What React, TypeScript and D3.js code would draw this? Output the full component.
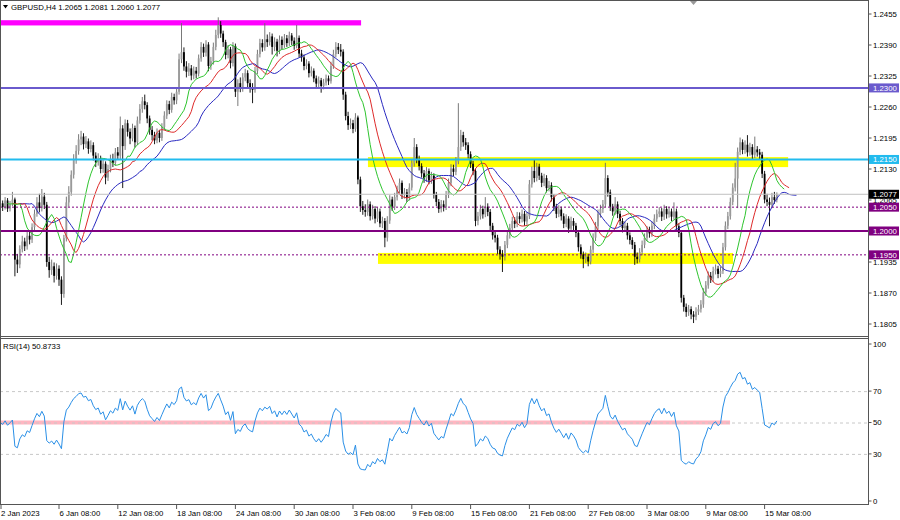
import React, {useEffect, useRef} from "react"
import * as d3 from "d3"

// GBPUSD H4, one bar every 4 hours from 2 Jan 08:00 to 16 Mar 2023.
// the open of every bar is the close of the bar before it
const firstOpen = 1.2055

const closeJan = [
    1.2058, 1.2050, 1.2064, 1.2047, 1.2056, 1.2066, 1.1940, 1.1930, 1.1962, 1.1978,
    1.1968, 1.1990, 1.1982, 1.2008, 1.2036, 1.2060, 1.2048, 1.2072, 1.2055, 1.1935,
    1.1918, 1.1926, 1.1906, 1.1921, 1.1898, 1.1868, 1.1985, 1.2060, 1.2082, 1.2118,
    1.2150, 1.2168, 1.2192, 1.2198, 1.2182, 1.2188, 1.2172, 1.2180, 1.2158, 1.2144,
    1.2152, 1.2130, 1.2141, 1.2112, 1.2130, 1.2151, 1.2143, 1.2165, 1.2158, 1.2215,
    1.2178, 1.2226, 1.2208, 1.2194, 1.2216, 1.2186, 1.2232, 1.2256, 1.2272, 1.2264,
    1.2236, 1.2212, 1.2201, 1.2190, 1.2206, 1.2195, 1.2218, 1.2242, 1.2266, 1.2254,
    1.2281, 1.2274, 1.2292, 1.2360, 1.2375, 1.2345, 1.2334, 1.2341, 1.2326, 1.2336,
    1.2330, 1.2362, 1.2386, 1.2374, 1.2391, 1.2346, 1.2356, 1.2386, 1.2411, 1.2432,
    1.2414, 1.2396, 1.2369, 1.2381, 1.2352, 1.2388, 1.2292, 1.2310, 1.2300, 1.2322,
    1.2331, 1.2310, 1.2301, 1.2296, 1.2336, 1.2371, 1.2394, 1.2385, 1.2402, 1.2396,
    1.2408, 1.2386, 1.2397, 1.2378, 1.2401, 1.2390, 1.2404, 1.2394, 1.2410, 1.2399,
    1.2388, 1.2405, 1.2372, 1.2364, 1.2346, 1.2351, 1.2331, 1.2336, 1.2320, 1.2309,
]
const closeFeb = [
    1.2316, 1.2304, 1.2311, 1.2320, 1.2314, 1.2346, 1.2371, 1.2386, 1.2380, 1.2376,
    1.2286, 1.2241, 1.2222, 1.2226, 1.2214, 1.2238, 1.2108, 1.2052, 1.2044, 1.2040,
    1.2056, 1.2031, 1.2046, 1.2026, 1.2041, 1.2016, 1.2021, 1.1986, 1.2022, 1.2066,
    1.2051, 1.2071, 1.2086, 1.2101, 1.2076, 1.2081, 1.2070, 1.2091, 1.2142, 1.2176,
    1.2151, 1.2136, 1.2121, 1.2110, 1.2126, 1.2106, 1.2116, 1.2076, 1.2061, 1.2046,
    1.2056, 1.2050, 1.2076, 1.2101, 1.2131, 1.2124, 1.2146, 1.2176, 1.2201, 1.2186,
    1.2180, 1.2161, 1.2141, 1.2126, 1.2021, 1.2031, 1.2046, 1.2035, 1.2051, 1.2040,
    1.2011, 1.1991, 1.1986, 1.1961, 1.1951, 1.1946, 1.1971, 1.1991, 1.2006, 1.2021,
    1.2015, 1.2031, 1.2025, 1.2036, 1.2020, 1.2031, 1.2098, 1.2126, 1.2111, 1.2135,
    1.2116, 1.2101, 1.2111, 1.2090, 1.2096, 1.2071, 1.2051, 1.2036, 1.2045, 1.2031,
    1.2015, 1.2026, 1.2005, 1.2021, 1.2011, 1.1996, 1.1966, 1.1951, 1.1941, 1.1946,
    1.1936, 1.1961, 1.1986, 1.2010, 1.2036, 1.2046, 1.2056, 1.2111, 1.2081, 1.2051,
]
const closeMar = [
    1.2041, 1.2056, 1.2036, 1.2021, 1.2006, 1.2011, 1.1991, 1.1981, 1.1971, 1.1946,
    1.1941, 1.1956, 1.1971, 1.1986, 1.2001, 1.1995, 1.2011, 1.2026, 1.2036, 1.2041,
    1.2030, 1.2046, 1.2035, 1.2041, 1.2030, 1.2041, 1.2010, 1.1996, 1.1860, 1.1841,
    1.1830, 1.1836, 1.1825, 1.1820, 1.1831, 1.1836, 1.1846, 1.1871, 1.1886, 1.1906,
    1.1900, 1.1916, 1.1921, 1.1910, 1.1916, 1.1966, 1.2011, 1.2031, 1.2061, 1.2091,
    1.2110, 1.2166, 1.2186, 1.2170, 1.2181, 1.2165, 1.2176, 1.2160, 1.2171, 1.2165,
    1.2160, 1.2120, 1.2066, 1.2061, 1.2055, 1.2071, 1.2065, 1.2077,
]

const highJan = [
    1.2066, 1.2064, 1.2071, 1.2069, 1.2063, 1.2082, 1.2070, 1.1952, 1.1970, 1.1990,
    1.1986, 1.1998, 1.2001, 1.2016, 1.2045, 1.2071, 1.2078, 1.2088, 1.2080, 1.2061,
    1.1946, 1.1940, 1.1934, 1.1932, 1.1928, 1.1905, 1.1992, 1.2072, 1.2094, 1.2127,
    1.2161, 1.2180, 1.2203, 1.2210, 1.2205, 1.2199, 1.2194, 1.2190, 1.2186, 1.2165,
    1.2163, 1.2158, 1.2150, 1.2146, 1.2139, 1.2160, 1.2162, 1.2174, 1.2176, 1.2240,
    1.2222, 1.2234, 1.2233, 1.2215, 1.2225, 1.2221, 1.2240, 1.2266, 1.2281, 1.2286,
    1.2270, 1.2242, 1.2220, 1.2208, 1.2215, 1.2212, 1.2226, 1.2251, 1.2274, 1.2273,
    1.2290, 1.2288, 1.2301, 1.2372, 1.2436, 1.2385, 1.2356, 1.2352, 1.2348, 1.2345,
    1.2344, 1.2370, 1.2396, 1.2393, 1.2400, 1.2396, 1.2365, 1.2395, 1.2422, 1.2448,
    1.2440, 1.2420, 1.2401, 1.2390, 1.2386, 1.2396, 1.2393, 1.2318, 1.2322, 1.2331,
    1.2340, 1.2337, 1.2318, 1.2310, 1.2344, 1.2380, 1.2403, 1.2402, 1.2436, 1.2412,
    1.2417, 1.2414, 1.2406, 1.2403, 1.2410, 1.2408, 1.2413, 1.2411, 1.2418, 1.2415,
    1.2406, 1.2432, 1.2410, 1.2380, 1.2370, 1.2360, 1.2356, 1.2345, 1.2341, 1.2326,
]
const highFeb = [
    1.2324, 1.2321, 1.2319, 1.2328, 1.2326, 1.2355, 1.2380, 1.2396, 1.2394, 1.2392,
    1.2381, 1.2292, 1.2250, 1.2236, 1.2233, 1.2247, 1.2242, 1.2114, 1.2063, 1.2056,
    1.2066, 1.2062, 1.2055, 1.2052, 1.2050, 1.2047, 1.2030, 1.2027, 1.2031, 1.2075,
    1.2072, 1.2080, 1.2095, 1.2110, 1.2106, 1.2090, 1.2088, 1.2100, 1.2151, 1.2195,
    1.2182, 1.2158, 1.2142, 1.2128, 1.2134, 1.2131, 1.2124, 1.2121, 1.2082, 1.2067,
    1.2065, 1.2064, 1.2084, 1.2110, 1.2140, 1.2139, 1.2155, 1.2268, 1.2212, 1.2208,
    1.2195, 1.2186, 1.2167, 1.2147, 1.2131, 1.2040, 1.2055, 1.2053, 1.2071, 1.2058,
    1.2046, 1.2017, 1.2000, 1.1992, 1.1968, 1.1960, 1.1979, 1.2000, 1.2015, 1.2030,
    1.2029, 1.2040, 1.2039, 1.2045, 1.2042, 1.2040, 1.2107, 1.2135, 1.2150, 1.2143,
    1.2141, 1.2122, 1.2120, 1.2117, 1.2105, 1.2102, 1.2077, 1.2057, 1.2054, 1.2051,
    1.2037, 1.2035, 1.2031, 1.2030, 1.2027, 1.2017, 1.2002, 1.1972, 1.1957, 1.1955,
    1.1952, 1.1969, 1.1995, 1.2019, 1.2045, 1.2055, 1.2065, 1.2143, 1.2117, 1.2087,
]
const highMar = [
    1.2057, 1.2071, 1.2062, 1.2042, 1.2027, 1.2020, 1.2017, 1.1997, 1.1987, 1.1977,
    1.1955, 1.1964, 1.1980, 1.1995, 1.2010, 1.2009, 1.2020, 1.2035, 1.2045, 1.2050,
    1.2048, 1.2055, 1.2052, 1.2050, 1.2047, 1.2060, 1.2047, 1.2016, 1.2001, 1.1866,
    1.1848, 1.1845, 1.1842, 1.1832, 1.1840, 1.1845, 1.1855, 1.1880, 1.1895, 1.1915,
    1.1914, 1.1925, 1.1930, 1.1927, 1.1925, 1.1975, 1.2020, 1.2040, 1.2070, 1.2100,
    1.2143, 1.2175, 1.2196, 1.2192, 1.2190, 1.2201, 1.2185, 1.2182, 1.2198, 1.2178,
    1.2172, 1.2166, 1.2126, 1.2078, 1.2070, 1.2080, 1.2082, 1.2081,
]

const lowJan = [
    1.2049, 1.2042, 1.2045, 1.2040, 1.2041, 1.2052, 1.1905, 1.1912, 1.1922, 1.1955,
    1.1958, 1.1961, 1.1972, 1.1975, 1.2001, 1.2030, 1.2039, 1.2041, 1.2046, 1.1925,
    1.1902, 1.1908, 1.1892, 1.1898, 1.1885, 1.1845, 1.1860, 1.1978, 1.2051, 1.2074,
    1.2110, 1.2141, 1.2160, 1.2180, 1.2171, 1.2174, 1.2162, 1.2165, 1.2148, 1.2134,
    1.2137, 1.2121, 1.2122, 1.2098, 1.2105, 1.2123, 1.2134, 1.2137, 1.2149, 1.2151,
    1.2090, 1.2170, 1.2198, 1.2182, 1.2188, 1.2175, 1.2180, 1.2225, 1.2248, 1.2255,
    1.2226, 1.2202, 1.2190, 1.2182, 1.2184, 1.2186, 1.2189, 1.2211, 1.2235, 1.2245,
    1.2248, 1.2265, 1.2266, 1.2286, 1.2352, 1.2336, 1.2322, 1.2325, 1.2316, 1.2318,
    1.2320, 1.2324, 1.2355, 1.2365, 1.2366, 1.2335, 1.2338, 1.2349, 1.2379, 1.2404,
    1.2405, 1.2386, 1.2360, 1.2362, 1.2341, 1.2345, 1.2281, 1.2262, 1.2291, 1.2292,
    1.2314, 1.2301, 1.2290, 1.2268, 1.2290, 1.2329, 1.2364, 1.2376, 1.2378, 1.2386,
    1.2389, 1.2370, 1.2377, 1.2366, 1.2371, 1.2381, 1.2384, 1.2386, 1.2388, 1.2390,
    1.2380, 1.2383, 1.2364, 1.2355, 1.2337, 1.2339, 1.2322, 1.2324, 1.2312, 1.2301,
]
const lowFeb = [
    1.2302, 1.2290, 1.2297, 1.2305, 1.2306, 1.2309, 1.2340, 1.2364, 1.2371, 1.2366,
    1.2275, 1.2232, 1.2212, 1.2214, 1.2205, 1.2208, 1.2098, 1.2040, 1.2034, 1.2030,
    1.2032, 1.2022, 1.2024, 1.2016, 1.2019, 1.2008, 1.2006, 1.1966, 1.1978, 1.2015,
    1.2042, 1.2044, 1.2064, 1.2079, 1.2067, 1.2068, 1.2061, 1.2064, 1.2085, 1.2135,
    1.2142, 1.2127, 1.2112, 1.2101, 1.2103, 1.2098, 1.2099, 1.2068, 1.2052, 1.2038,
    1.2039, 1.2041, 1.2044, 1.2069, 1.2094, 1.2115, 1.2117, 1.2140, 1.2168, 1.2177,
    1.2170, 1.2152, 1.2132, 1.2117, 1.2010, 1.2012, 1.2024, 1.2026, 1.2029, 1.2031,
    1.2002, 1.1982, 1.1976, 1.1952, 1.1940, 1.1914, 1.1938, 1.1964, 1.1984, 1.1999,
    1.2006, 1.2008, 1.2016, 1.2018, 1.2011, 1.2013, 1.2025, 1.2091, 1.2102, 1.2104,
    1.2107, 1.2092, 1.2094, 1.2081, 1.2083, 1.2062, 1.2042, 1.2027, 1.2029, 1.2022,
    1.2006, 1.2008, 1.1996, 1.1998, 1.2002, 1.1987, 1.1957, 1.1942, 1.1922, 1.1933,
    1.1926, 1.1930, 1.1954, 1.1979, 1.2003, 1.2028, 1.2038, 1.2050, 1.2072, 1.2042,
]
const lowMar = [
    1.2032, 1.2034, 1.2027, 1.2012, 1.1997, 1.1998, 1.1982, 1.1972, 1.1962, 1.1929,
    1.1932, 1.1934, 1.1949, 1.1964, 1.1979, 1.1986, 1.1988, 1.2004, 1.2019, 1.2029,
    1.2021, 1.2023, 1.2026, 1.2028, 1.2021, 1.2024, 1.2001, 1.1987, 1.1850, 1.1831,
    1.1820, 1.1822, 1.1815, 1.1807, 1.1813, 1.1824, 1.1829, 1.1839, 1.1864, 1.1879,
    1.1891, 1.1893, 1.1909, 1.1901, 1.1903, 1.1910, 1.1959, 1.2004, 1.2024, 1.2054,
    1.2083, 1.2048, 1.2159, 1.2161, 1.2162, 1.2156, 1.2158, 1.2151, 1.2153, 1.2156,
    1.2150, 1.2111, 1.2058, 1.2052, 1.2010, 1.2048, 1.2057, 1.2060,
]

const dateLabels = ["2 Jan 2023", "6 Jan 08:00", "12 Jan 08:00", "18 Jan 08:00", "24 Jan 08:00",
    "30 Jan 08:00", "3 Feb 08:00", "9 Feb 08:00", "15 Feb 08:00", "21 Feb 08:00",
    "27 Feb 08:00", "3 Mar 08:00", "9 Mar 08:00", "15 Mar 08:00"]
const dateLabelBars = [0, 24, 48, 72, 96, 120, 144, 168, 192, 216, 240, 264, 288, 312]
const priceTicks = [1.2455, 1.2390, 1.2325, 1.2260, 1.2195, 1.2130, 1.2065, 1.2000, 1.1935, 1.1870, 1.1805]
const rsiTicks = [100, 70, 50, 30, 0]
const rsiLevels = [70, 50, 30]

// hand drawn objects: rectangles (bar range, price range) and horizontal lines
const zones = [
    {from: -1, to: 147.3, hi: 1.2442, lo: 1.2431, color: "#ff00ff"},
    {from: 150.1, to: 321.6, hi: 1.2155, lo: 1.2134, color: "#ffff00"},
    {from: 154.2, to: 299.1, hi: 1.1954, lo: 1.1931, color: "#ffff00"},
]
const hLines = [
    {price: 1.2077, color: "#c0c0c0", width: 1, dash: ""},
    {price: 1.2050, color: "#800080", width: 1, dash: "2,2"},
    {price: 1.1950, color: "#800080", width: 1, dash: "2,2"},
    {price: 1.2300, color: "#6a5acd", width: 2, dash: ""},
    {price: 1.2150, color: "#22bbee", width: 2, dash: ""},
    {price: 1.2000, color: "#800080", width: 2, dash: ""},
]
const badges = [
    {price: 1.2300, color: "#6a5acd"},
    {price: 1.2150, color: "#22bbee"},
    {price: 1.2077, color: "#000000"},
    {price: 1.2050, color: "#800080"},
    {price: 1.2000, color: "#800080"},
    {price: 1.1950, color: "#800080"},
]
// alligator: jaw, teeth, lips (smoothed MA of median price, shifted forward)
const alligator = [
    {period: 13, shift: 8, color: "#2a2ac0"},
    {period: 8, shift: 5, color: "#dd2a2a"},
    {period: 5, shift: 3, color: "#2ec42e"},
]

const W = 900
const H = 520
const axisX = 868.5
const font = "'Liberation Sans', Arial, sans-serif"

const smma = (src: number[], n: number) => {
    let v = src[0]
    return src.map((p, i) => (v = i === 0 ? p : (v * (n - 1) + p) / n))
}

// Wilder RSI(14); gains and losses start from the same average move (history before bar 0 is unknown)
const rsi14 = (c: number[]) => {
    const seed = (d3.mean(d3.range(1, 15), i => Math.abs(c[i] - c[i - 1])) || 0) / 2
    let ag = seed, al = seed
    return c.map((v, i) => {
        if (i > 0) {
            const ch = v - c[i - 1]
            ag = (ag * 13 + Math.max(ch, 0)) / 14
            al = (al * 13 + Math.max(-ch, 0)) / 14
        }
        return al === 0 ? 100 : 100 - 100 / (1 + ag / al)
    })
}

const App = () => {
    const ref = useRef<SVGSVGElement>(null)

    useEffect(() => {
        const svg = d3.select(ref.current)
        svg.selectAll("*").remove()

        const closes = [...closeJan, ...closeFeb, ...closeMar]
        const highs = [...highJan, ...highFeb, ...highMar]
        const lows = [...lowJan, ...lowFeb, ...lowMar]
        const bars = closes.map((c, i) => ({
            i, c, h: highs[i], l: lows[i], o: i === 0 ? firstOpen : closes[i - 1],
        }))

        const x = d3.scaleLinear().domain([0, 354]).range([0.2, 0.2 + 354 * 2.45])
        const y = d3.scaleLinear().domain([1.1805, 1.2455]).range([324, 14])
        const yr = d3.scaleLinear().domain([0, 100]).range([501, 344])

        svg.append("rect").attr("width", W).attr("height", H).attr("fill", "#fff")

        const defs = svg.append("defs")
        defs.append("clipPath").attr("id", "clipMain")
            .append("rect").attr("x", 1).attr("y", 1).attr("width", axisX - 1).attr("height", 335)
        defs.append("clipPath").attr("id", "clipRsi")
            .append("rect").attr("x", 1).attr("y", 339).attr("width", axisX - 1).attr("height", 165)

        // main window
        const main = svg.append("g").attr("clip-path", "url(#clipMain)")

        main.selectAll("rect.zone").data(zones).join("rect")
            .attr("x", d => x(d.from))
            .attr("width", d => x(d.to) - x(d.from))
            .attr("y", d => y(d.hi))
            .attr("height", d => y(d.lo) - y(d.hi))
            .attr("fill", d => d.color)

        main.selectAll("line.wick").data(bars).join("line")
            .attr("x1", d => x(d.i)).attr("x2", d => x(d.i))
            .attr("y1", d => y(d.h)).attr("y2", d => y(d.l))
            .attr("stroke", d => d.c >= d.o ? "#6a6a6a" : "#000")
            .attr("stroke-width", 0.9)
        main.selectAll("rect.body").data(bars).join("rect")
            .attr("x", d => x(d.i) - 0.9)
            .attr("width", 1.8)
            .attr("y", d => y(Math.max(d.o, d.c)))
            .attr("height", d => Math.max(1, Math.abs(y(d.o) - y(d.c))))
            .attr("fill", d => d.c >= d.o ? "#9a9a9a" : "#000")

        const median = bars.map(d => (d.h + d.l) / 2)
        alligator.forEach(a => {
            const vals = smma(median, a.period)
            main.append("path")
                .attr("d", d3.line<number>().x((_, i) => x(i + a.shift)).y(v => y(v))(vals))
                .attr("fill", "none").attr("stroke", a.color).attr("stroke-width", 1)
        })

        main.selectAll("line.level").data(hLines).join("line")
            .attr("x1", 0).attr("x2", axisX)
            .attr("y1", d => y(d.price)).attr("y2", d => y(d.price))
            .attr("stroke", d => d.color)
            .attr("stroke-width", d => d.width)
            .attr("stroke-dasharray", d => d.dash || null)

        // rsi window
        const sub = svg.append("g").attr("clip-path", "url(#clipRsi)")
        sub.append("line")
            .attr("x1", 0).attr("x2", x(297.9))
            .attr("y1", yr(50)).attr("y2", yr(50))
            .attr("stroke", "#ffb6c1").attr("stroke-width", 4)
        sub.selectAll("line.lvl").data(rsiLevels).join("line")
            .attr("x1", 0).attr("x2", axisX)
            .attr("y1", d => yr(d) + 0.5).attr("y2", d => yr(d) + 0.5)
            .attr("stroke", "#c8c8c8").attr("stroke-dasharray", "3,3")
        const rsi = rsi14(closes)
        sub.append("path")
            .attr("d", d3.line<number>().x((_, i) => x(i)).y(v => yr(v))(rsi))
            .attr("fill", "none").attr("stroke", "#2a8fe6").attr("stroke-width", 1)

        // frames
        const frame = svg.append("g").attr("stroke", "#555").attr("fill", "none")
        frame.append("line").attr("x1", 0.5).attr("x2", 0.5).attr("y1", 0).attr("y2", 505)
        frame.append("line").attr("x1", axisX).attr("x2", axisX).attr("y1", 0).attr("y2", 505)
        frame.append("line").attr("x1", 0).attr("x2", axisX).attr("y1", 0.5).attr("y2", 0.5)
        frame.append("line").attr("x1", 0).attr("x2", axisX).attr("y1", 336.5).attr("y2", 336.5)
        frame.append("line").attr("x1", 0).attr("x2", axisX).attr("y1", 338.5).attr("y2", 338.5)
        frame.append("line").attr("x1", 0).attr("x2", axisX).attr("y1", 504.5).attr("y2", 504.5)

        // chart shift marker
        svg.append("path").attr("d", "M690,1 L697,1 L693.5,5 Z").attr("fill", "#999")

        const text = svg.append("g").attr("font-family", font).attr("font-size", 7.8).attr("fill", "#000")

        // price axis
        text.selectAll("line.pt").data(priceTicks).join("line")
            .attr("x1", axisX).attr("x2", axisX + 3)
            .attr("y1", d => y(d)).attr("y2", d => y(d))
            .attr("stroke", "#555")
        text.selectAll("text.pt").data(priceTicks).join("text")
            .attr("x", 873).attr("y", d => y(d) + 2.8)
            .text(d => d.toFixed(4))

        const badge = text.selectAll("g.badge").data(badges).join("g")
        badge.append("rect")
            .attr("x", axisX + 0.5).attr("width", 30)
            .attr("y", d => y(d.price) - 4.5).attr("height", 9)
            .attr("fill", d => d.color)
        badge.append("text")
            .attr("x", 873).attr("y", d => y(d.price) + 2.8)
            .attr("fill", "#fff")
            .text(d => d.price.toFixed(4))

        // rsi axis
        text.selectAll("line.rt").data(rsiTicks).join("line")
            .attr("x1", axisX).attr("x2", axisX + 3)
            .attr("y1", d => yr(d)).attr("y2", d => yr(d))
            .attr("stroke", "#555")
        text.selectAll("text.rt").data(rsiTicks).join("text")
            .attr("x", 873).attr("y", d => yr(d) + 2.8)
            .text(d => String(d))

        // time axis
        text.selectAll("line.dt").data(dateLabelBars).join("line")
            .attr("x1", d => Math.max(1, x(d))).attr("x2", d => Math.max(1, x(d)))
            .attr("y1", 505).attr("y2", 509)
            .attr("stroke", "#555")
        text.selectAll("text.dt").data(dateLabels).join("text")
            .attr("x", (_, i) => Math.max(1, x(dateLabelBars[i]) + 0.5))
            .attr("y", 515.5)
            .text(d => d)

        // titles
        svg.append("path").attr("d", "M3,5 L8,5 L5.5,8.5 Z").attr("fill", "#000")
        text.append("text").attr("x", 11).attr("y", 10)
            .text("GBPUSD,H4  1.2065 1.2081 1.2060 1.2077")
        text.append("text").attr("x", 3).attr("y", 348.5)
            .text("RSI(14) 50.8733")
    }, [])

    return (
        <svg
            ref={ref}
            width={W}
            height={H}
            style={{position: "absolute", left: 0, top: 0}}
        />
    )
}

export default App
